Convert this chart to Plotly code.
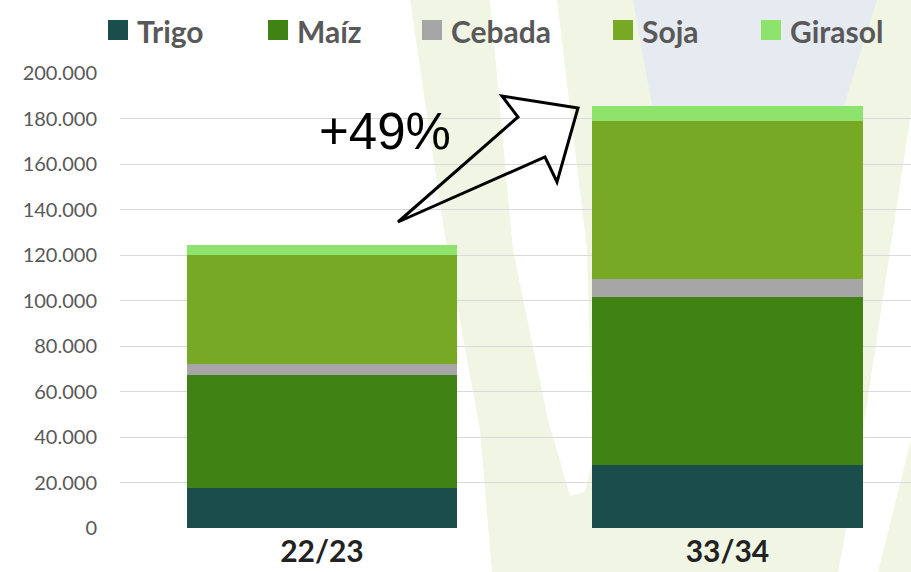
import plotly.graph_objects as go

# ---------------- data ----------------
categories = ["22/23", "33/34"]
series_names = ["Trigo", "Maíz", "Cebada", "Soja", "Girasol"]
trigo = [17600, 27800]
maiz = [49500, 73900]
cebada = [5100, 7700]
soja = [48000, 69700]
girasol = [4000, 6600]
y_tick_values = [0, 20000, 40000, 60000, 80000, 100000, 120000, 140000, 160000, 180000, 200000]
y_tick_labels = ["0", "20.000", "40.000", "60.000", "80.000", "100.000",
                 "120.000", "140.000", "160.000", "180.000", "200.000"]
growth_label = "+49%"

# ---------------- styling ----------------
series_values = [trigo, maiz, cebada, soja, girasol]
colors = ["#1b4d4a", "#418215", "#a6a6a6", "#78a924", "#8de36b"]

W, H = 911, 572
L, R, T, B = 120, 0, 73, 44
PW, PH = W - L - R, H - T - B


def xp(px):
    return (px - L) / PW


def yp(py):
    return (H - B - py) / PH


def path_from_px(points, close=True):
    s = "M " + " L ".join(f"{xp(x):.5f},{yp(y):.5f}" for x, y in points)
    return s + (" Z" if close else "")


fig = go.Figure()
for name, vals, col in zip(series_names, series_values, colors):
    fig.add_trace(go.Bar(
        x=categories, y=vals, name=name,
        marker=dict(color=col, line=dict(width=0)),
        showlegend=False,
    ))

shapes = []
# faint watermark background
wm_green = "#f0f5e4"
wm_blue = "#e6ebf1"
shapes.append(dict(type="path", xref="paper", yref="paper", layer="below",
                   path=path_from_px([(410, 0), (911, 0), (911, 572), (492, 572),
                                      (480, 430), (447, 250)]),
                   fillcolor=wm_green, line=dict(width=0)))
shapes.append(dict(type="path", xref="paper", yref="paper", layer="below",
                   path=path_from_px([(490, 0), (557, 0), (587, 250), (593, 460),
                                      (585, 492), (570, 496), (548, 420), (513, 250)]),
                   fillcolor="white", line=dict(width=0)))
shapes.append(dict(type="path", xref="paper", yref="paper", layer="below",
                   path=path_from_px([(633, 0), (877, 0), (830, 150), (660, 150)]),
                   fillcolor=wm_blue, line=dict(width=0)))
shapes.append(dict(type="path", xref="paper", yref="paper", layer="below",
                   path=path_from_px([(928, 0), (855, 483), (838, 572), (878, 572),
                                      (911, 440), (911, 0)]),
                   fillcolor="white", line=dict(width=0)))

# outlined block arrow
shapes.append(dict(type="path", xref="paper", yref="paper", layer="above",
                   path=path_from_px([(398, 222), (518, 117), (502, 96), (578, 108),
                                      (557, 182), (545, 157)]),
                   fillcolor="rgba(0,0,0,0)", line=dict(color="black", width=3)))

annotations = []
# manual legend
legend_sq_left = [108, 268, 422, 613, 761]
sq = 20
legend_cy = 31
for name, col, sx in zip(series_names, colors, legend_sq_left):
    shapes.append(dict(type="rect", xref="paper", yref="paper", layer="above",
                       x0=xp(sx), x1=xp(sx + sq), y0=yp(legend_cy - sq / 2 - 1),
                       y1=yp(legend_cy + sq / 2 - 1),
                       fillcolor=col, line=dict(width=0)))
    annotations.append(dict(xref="paper", yref="paper", x=xp(sx + sq + 7), y=yp(legend_cy),
                            xanchor="left", yanchor="middle", showarrow=False,
                            text=name, font=dict(family="Lato", size=30, color="#595959",
                                                 weight="bold")))

annotations.append(dict(xref="paper", yref="paper", x=xp(385), y=yp(131),
                        xanchor="center", yanchor="middle", showarrow=False,
                        text=growth_label,
                        font=dict(family="Liberation Sans", size=51, color="black")))

fig.update_layout(
    width=W, height=H,
    margin=dict(l=L, r=R, t=T, b=B, pad=0),
    barmode="stack", bargap=0.334,
    paper_bgcolor="white", plot_bgcolor="rgba(0,0,0,0)",
    showlegend=False,
    shapes=shapes, annotations=annotations,
    xaxis=dict(
        type="category", range=[-0.498, 1.4525],
        showgrid=False, zeroline=False, showline=False, ticks="",
        tickfont=dict(family="Lato", size=30, color="#222222", weight="bold"),
        ticklabelstandoff=3,
    ),
    yaxis=dict(
        range=[0, 200000],
        tickvals=y_tick_values, ticktext=y_tick_labels,
        showgrid=True, gridcolor="#d9d9d9", gridwidth=1,
        zeroline=False, showline=False, ticks="",
        tickfont=dict(family="Lato", size=20, color="#595959"),
        ticklabelstandoff=22,
    ),
)

fig.write_html(
    "out.html",
    config={"displayModeBar": False},
    post_script="document.body.style.margin='0';document.body.style.overflow='hidden';",
)
